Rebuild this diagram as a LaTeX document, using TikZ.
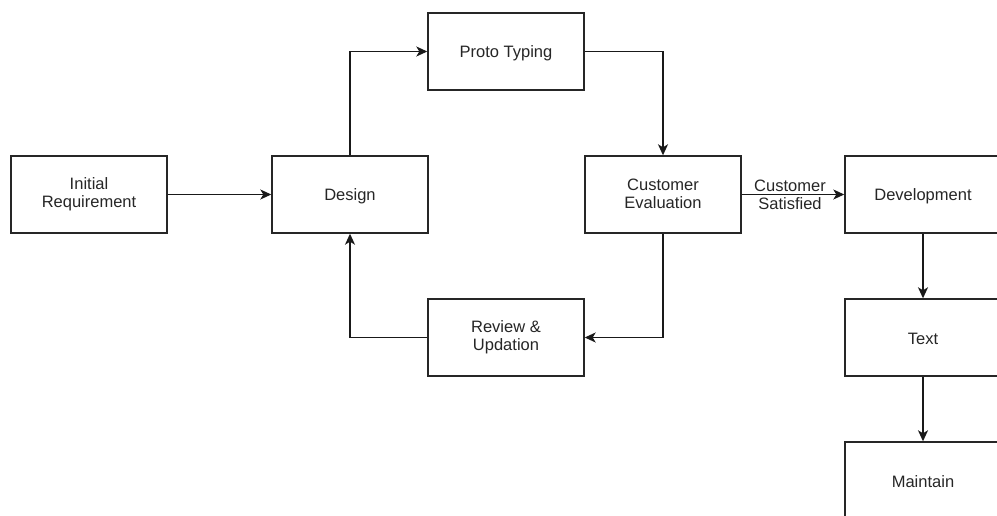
\documentclass[tikz,border=0pt]{standalone}
\usepackage{fontspec}
\setmainfont{Liberation Sans}
\usetikzlibrary{arrows.meta}
% fixed line box so that every label sits the same way in its box
\newcommand{\toprule}{\rule{0pt}{15.5pt}}
\newcommand{\botrule}{\rule[-2.5pt]{0pt}{2.5pt}}
\begin{document}
\begin{tikzpicture}[x=1pt,y=-1pt,
  box/.style={draw=black!85, line width=1.4pt, fill=white,
    minimum width=156pt, minimum height=77pt, inner sep=0pt,
    align=center, font=\fontsize{16.5}{18}\selectfont, text=black!85,
    execute at begin node=\toprule, execute at end node=\botrule},
  flow/.style={draw=black!90, line width=1.4pt,
    -{Stealth[length=11pt,width=10pt,inset=3pt]}}]
  \useasboundingbox (0,0) rectangle (997,516);
  \clip (0,0) rectangle (997,516);

  % process steps
  \node[box] (init)   at (89,194.5)  {Initial\\Requirement};
  \node[box] (design) at (350,194.5) {Design};
  \node[box] (proto)  at (506,51.5)  {Proto Typing};
  \node[box] (eval)   at (663,194.5) {Customer\\Evaluation};
  \node[box] (review) at (506,337.5) {Review \&\\Updation};
  \node[box] (dev)    at (923,194.5) {Development};
  \node[box] (test)   at (923,337.5) {Text};
  \node[box] (maint)  at (923,480.5) {Maintain};

  % prototype loop
  \draw[flow] (init) -- (design);
  \draw[flow] (design.north) |- (proto.west);
  \draw[flow] (proto.east) -| (eval.north);
  \draw[flow] (eval.south) |- (review.east);
  \draw[flow] (review.west) -| (design.south);

  % after approval
  \draw[flow] (eval) -- node[font=\fontsize{16.5}{18}\selectfont, text=black!85,
    align=center, inner sep=0pt, xshift=-3pt] {Customer\\Satisfied} (dev);
  \draw[flow] (dev) -- (test);
  \draw[flow] (test) -- (maint);
\end{tikzpicture}
\end{document}
